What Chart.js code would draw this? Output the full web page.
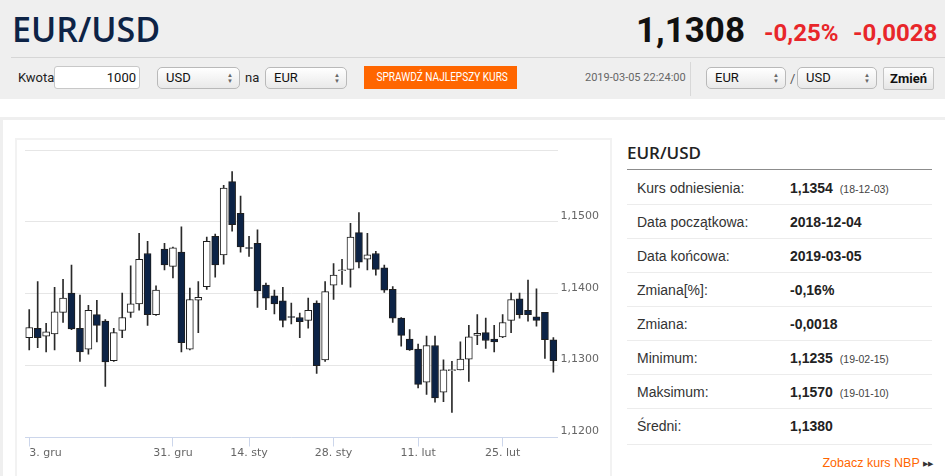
<!DOCTYPE html>
<html lang="pl">
<head>
<meta charset="utf-8">
<title>EUR/USD</title>
<script src="https://cdn.jsdelivr.net/npm/chart.js@4.4.1/dist/chart.umd.min.js"></script>
<style>
  html, body { margin: 0; padding: 0; background: #fff; }
  body { width: 945px; height: 476px; position: relative; overflow: hidden; font-family: "Liberation Sans", Arial, sans-serif; }
  .abs { position: absolute; }
  .narrow { font-family: "Liberation Sans Narrow", "Roboto", sans-serif; }
  #top { left: 0; top: 0; width: 945px; height: 99px; background: #efefef; }
  #title { left: 12px; top: 11px; font: 600 34px/36px "Open Sans", sans-serif; color: #0d2346; }
  #price { left: 636px; top: 13px; font: 700 35px/36px Roboto, sans-serif; color: #111; }
  .chg { top: 19px; font: 700 24px/28px Roboto, sans-serif; color: #e8262a; }
  #sep1 { left: 11px; top: 57px; width: 934px; height: 1px; background: #d6d6d6; }
  .lbl { font-size: 13px; line-height: 22px; color: #222; }
  .inp { background: #fff; border: 1px solid #c8c8c8; border-radius: 3px; box-sizing: border-box; font-size: 13px; line-height: 21px; text-align: right; padding-right: 3px; color: #111; }
  .sel { box-sizing: border-box; height: 22px; border: 1px solid #b9b9b9; border-radius: 5px; background: linear-gradient(#ffffff, #e9e9e9); font-size: 13px; line-height: 20px; padding-left: 8px; color: #111; }
  .sel .arr { position: absolute; right: 6px; top: 4px; font-size: 6px; line-height: 6px; color: #666; }
  #btn { left: 364px; top: 66px; width: 153px; height: 23px; background: #ff6600; color: #fff; font-size: 12px; line-height: 23px; text-align: center; white-space: nowrap; overflow: hidden; }
  #btn span { display: inline-block; transform: scaleX(0.84); transform-origin: center; }
  #stamp { left: 585px; top: 67px; font-size: 11px; line-height: 22px; color: #666; }
  #sep2 { left: 690px; top: 62px; width: 1px; height: 34px; background: #d8d8d8; }
  #zmien { left: 883px; top: 67px; width: 51px; height: 23px; box-sizing: border-box; border: 1px solid #c4c4c4; border-radius: 2px; background: linear-gradient(#fdfdfd, #e6e6e6); font-weight: 700; font-size: 13px; line-height: 21px; text-align: center; color: #111; }
  #panel { left: 0; top: 117px; width: 945px; height: 370px; box-sizing: border-box; border-top: 3px solid #efefef; border-left: 3px solid #efefef; }
  #chartBox { left: 15px; top: 138px; width: 597px; height: 350px; box-sizing: border-box; border: 2px solid #f2f2f2; }
  #chartWrap { left: 17px; top: 140px; width: 594px; height: 336px; }
  #tblHead { left: 627px; top: 141px; font: 600 17px/24px "Open Sans", sans-serif; color: #222; }
  #tblLine { left: 627px; top: 169px; width: 305px; height: 1px; background: #8c8c8c; }
  .row { left: 627px; width: 305px; height: 34px; border-bottom: 1px solid #ececec; box-sizing: border-box; }
  .row .k { position: absolute; left: 10px; top: 8px; font-size: 14px; line-height: 18px; color: #333; }
  .row .v { position: absolute; left: 163px; top: 8px; font-size: 14px; line-height: 18px; font-weight: 700; color: #222; }
  .row .v small { font-weight: 400; font-size: 10.5px; color: #444; margin-left: 7px; }
  #nbp { left: 760px; top: 454px; width: 173px; text-align: right; font-size: 12.5px; line-height: 18px; color: #ff6600; }
  #nbp span { color: #333; font-size: 7px; vertical-align: 1px; }
</style>
</head>
<body>
<div id="top" class="abs"></div>
<div id="title" class="abs">EUR/USD</div>
<div id="price" class="abs">1,1308</div>
<div class="abs chg" style="left:764px">-0,25%</div>
<div class="abs chg" style="left:853px">-0,0028</div>
<div id="sep1" class="abs"></div>

<div class="abs lbl narrow" style="left:18px;top:67px">Kwota</div>
<div class="abs inp narrow" style="left:54px;top:66px;width:86px;height:23px">1000</div>
<div class="abs sel narrow" style="left:157px;top:67px;width:83px">USD<span class="arr">▲<br>▼</span></div>
<div class="abs lbl narrow" style="left:245px;top:67px">na</div>
<div class="abs sel narrow" style="left:265px;top:67px;width:82px">EUR<span class="arr">▲<br>▼</span></div>
<div id="btn" class="abs narrow"><span>SPRAWDŹ NAJLEPSZY KURS</span></div>
<div id="stamp" class="abs narrow">2019-03-05 22:24:00</div>
<div id="sep2" class="abs"></div>
<div class="abs sel narrow" style="left:706px;top:67px;width:80px">EUR<span class="arr">▲<br>▼</span></div>
<div class="abs lbl narrow" style="left:790px;top:68px;color:#555">/</div>
<div class="abs sel narrow" style="left:797px;top:67px;width:80px">USD<span class="arr">▲<br>▼</span></div>
<div id="zmien" class="abs narrow">Zmień</div>

<div id="panel" class="abs"></div>
<div id="chartBox" class="abs"></div>
<div id="chartWrap" class="abs"><canvas id="fxChart"></canvas></div>

<div id="tblHead" class="abs">EUR/USD</div>
<div id="tblLine" class="abs"></div>
<div class="abs row" style="top:171px"><span class="k">Kurs odniesienia:</span><span class="v">1,1354<small>(18-12-03)</small></span></div>
<div class="abs row" style="top:205px"><span class="k">Data początkowa:</span><span class="v">2018-12-04</span></div>
<div class="abs row" style="top:239px"><span class="k">Data końcowa:</span><span class="v">2019-03-05</span></div>
<div class="abs row" style="top:273px"><span class="k">Zmiana[%]:</span><span class="v">-0,16%</span></div>
<div class="abs row" style="top:307px"><span class="k">Zmiana:</span><span class="v">-0,0018</span></div>
<div class="abs row" style="top:341px"><span class="k">Minimum:</span><span class="v">1,1235<small>(19-02-15)</small></span></div>
<div class="abs row" style="top:375px"><span class="k">Maksimum:</span><span class="v">1,1570<small>(19-01-10)</small></span></div>
<div class="abs row" style="top:409px;height:36px"><span class="k">Średni:</span><span class="v">1,1380</span></div>
<div id="nbp" class="abs">Zobacz kurs NBP <span>▶▶</span></div>

<script>
// trading days shown on the chart
const days = [
  '2018-12-04', '2018-12-05', '2018-12-06', '2018-12-07', '2018-12-10', '2018-12-11', '2018-12-12',
  '2018-12-13', '2018-12-14', '2018-12-17', '2018-12-18', '2018-12-19', '2018-12-20', '2018-12-21',
  '2018-12-24', '2018-12-27', '2018-12-28', '2018-12-31',
  '2019-01-02', '2019-01-03', '2019-01-04', '2019-01-07', '2019-01-08', '2019-01-09', '2019-01-10',
  '2019-01-11', '2019-01-14', '2019-01-15', '2019-01-16', '2019-01-17', '2019-01-18', '2019-01-21',
  '2019-01-22', '2019-01-23', '2019-01-24', '2019-01-25', '2019-01-28', '2019-01-29', '2019-01-30',
  '2019-01-31',
  '2019-02-01', '2019-02-04', '2019-02-05', '2019-02-06', '2019-02-07', '2019-02-08', '2019-02-11',
  '2019-02-12', '2019-02-13', '2019-02-14', '2019-02-15', '2019-02-18', '2019-02-19', '2019-02-20',
  '2019-02-21', '2019-02-22', '2019-02-25', '2019-02-26', '2019-02-27', '2019-02-28',
  '2019-03-01', '2019-03-04', '2019-03-05'
];

const openVals = [
  1.1339, 1.1352, 1.1341, 1.1344, 1.1374, 1.1401, 1.1352, 1.1323, 1.1371, 1.1362, 1.1307, 1.1349, 1.1374, 1.1386,
  1.1456, 1.1371, 1.1462, 1.1438,
  1.1458, 1.1323, 1.1391, 1.1410, 1.1480, 1.1454, 1.1556, 1.1512, 1.1464, 1.1470, 1.1412, 1.1397, 1.1390, 1.1368,
  1.1367, 1.1363, 1.1387, 1.1308, 1.1412, 1.1432, 1.1434, 1.1485,
  1.1448, 1.1456, 1.1436, 1.1406, 1.1366, 1.1337, 1.1323, 1.1277, 1.1328, 1.1263, 1.1293, 1.1294, 1.1309, 1.1342,
  1.1346, 1.1337, 1.1340, 1.1363, 1.1393, 1.1377,
  1.1368, 1.1374, 1.1336
];
const highVals = [
  1.1378, 1.1417, 1.1359, 1.1409, 1.1420, 1.1440, 1.1398, 1.1384, 1.1391, 1.1364, 1.1352, 1.1401, 1.1439, 1.1484,
  1.1473, 1.1411, 1.1470, 1.1465,
  1.1493, 1.1408, 1.1417, 1.1479, 1.1483, 1.1551, 1.1570, 1.1536, 1.1480, 1.1489, 1.1415, 1.1405, 1.1409, 1.1387,
  1.1373, 1.1394, 1.1390, 1.1417, 1.1442, 1.1448, 1.1498, 1.1513,
  1.1484, 1.1459, 1.1440, 1.1410, 1.1367, 1.1350, 1.1330, 1.1341, 1.1341, 1.1308, 1.1306, 1.1333, 1.1356, 1.1371,
  1.1366, 1.1356, 1.1371, 1.1401, 1.1401, 1.1419,
  1.1407, 1.1374, 1.1339
];
const lowVals = [
  1.1322, 1.1325, 1.1319, 1.1322, 1.1360, 1.1350, 1.1306, 1.1316, 1.1333, 1.1271, 1.1306, 1.1339, 1.1367, 1.1377,
  1.1356, 1.1370, 1.1433, 1.1422,
  1.1319, 1.1322, 1.1346, 1.1406, 1.1423, 1.1441, 1.1487, 1.1458, 1.1452, 1.1381, 1.1378, 1.1372, 1.1354, 1.1358,
  1.1339, 1.1352, 1.1289, 1.1306, 1.1392, 1.1413, 1.1409, 1.1436,
  1.1433, 1.1426, 1.1402, 1.1360, 1.1327, 1.1321, 1.1269, 1.1260, 1.1249, 1.1250, 1.1235, 1.1294, 1.1278, 1.1329,
  1.1324, 1.1319, 1.1339, 1.1346, 1.1366, 1.1362,
  1.1355, 1.1310, 1.1291
];
const closeVals = [
  1.1353, 1.1339, 1.1347, 1.1375, 1.1394, 1.1351, 1.1319, 1.1377, 1.1356, 1.1305, 1.1346, 1.1367, 1.1386, 1.1448,
  1.1371, 1.1405, 1.1440, 1.1464,
  1.1332, 1.1392, 1.1395, 1.1473, 1.1440, 1.1547, 1.1496, 1.1465, 1.1463, 1.1404, 1.1394, 1.1386, 1.1363, 1.1367,
  1.1361, 1.1377, 1.1300, 1.1403, 1.1426, 1.1433, 1.1479, 1.1444,
  1.1454, 1.1434, 1.1405, 1.1366, 1.1342, 1.1322, 1.1274, 1.1328, 1.1255, 1.1294, 1.1294, 1.1309, 1.1340, 1.1345,
  1.1335, 1.1333, 1.1360, 1.1392, 1.1371, 1.1371,
  1.1363, 1.1336, 1.1307
];

// x axis labels (week ticks) and y axis range
const tickDays = ['2018-12-04', '2018-12-31', '2019-01-14', '2019-01-28', '2019-02-11', '2019-02-25'];
const tickTexts = ['3. gru', '31. gru', '14. sty', '28. sty', '11. lut', '25. lut'];
const yTicks = [1.12, 1.13, 1.14, 1.15, 1.16];
const yHidden = [1.16];

const fxChart = {
    chart: null,

    tickText(index) {
        const pos = tickDays.indexOf(days[index]);
        return pos >= 0 ? tickTexts[pos] : '';
    },

    init() {
        const ctx = document.getElementById('fxChart').getContext('2d');

        // candle bodies as floating bars, wicks as 1px floating bars behind them
        const bodies = days.map((d, i) => [openVals[i], closeVals[i]]);
        const wicks = days.map((d, i) => [lowVals[i], highVals[i]]);
        const fills = days.map((d, i) => closeVals[i] >= openVals[i] ? '#ffffff' : '#0c2346');

        this.chart = new Chart(ctx, {
            type: 'bar',
            data: {
                labels: days,
                datasets: [
                    {
                        data: bodies,
                        backgroundColor: fills,
                        borderColor: '#1e1e1e',
                        borderWidth: 1,
                        borderSkipped: false,
                        barThickness: 7,
                        minBarLength: 1,
                        grouped: false
                    },
                    {
                        data: wicks,
                        backgroundColor: '#2a2a2a',
                        borderWidth: 0,
                        barThickness: 1,
                        grouped: false
                    }
                ]
            },
            options: {
                responsive: true,
                maintainAspectRatio: false,
                animation: false,
                layout: { padding: { left: 8, top: 10, right: 0, bottom: 12.5 } },
                plugins: { legend: { display: false }, tooltip: { enabled: false } },
                scales: {
                    x: {
                        grid: {
                            offset: false,
                            drawOnChartArea: false,
                            tickLength: 9,
                            color: (c) => this.tickText(c.index) ? '#ccd6eb' : 'rgba(0,0,0,0)'
                        },
                        border: { display: true, color: '#ccd6eb' },
                        ticks: {
                            autoSkip: false,
                            maxRotation: 0,
                            align: 'inner',
                            padding: 0,
                            color: '#666',
                            font: { family: 'DejaVu Sans', size: 11 },
                            callback: (v, i) => this.tickText(i)
                        },
                        afterFit: (scale) => { scale.height = 26; }
                    },
                    y: {
                        position: 'right',
                        min: yTicks[0],
                        max: yTicks[yTicks.length - 1],
                        afterBuildTicks: (scale) => { scale.ticks = yTicks.map(v => ({ value: v })); },
                        grid: { color: '#e6e6e6', drawTicks: false },
                        border: { display: false },
                        ticks: {
                            padding: 3,
                            labelOffset: -6,
                            color: '#666',
                            font: { family: 'DejaVu Sans', size: 11 },
                            callback: (v) => yHidden.some(h => Math.abs(h - v) < 1e-6) ? '' : v.toFixed(4).replace('.', ',')
                        },
                        afterFit: (scale) => { scale.width = 53.4; }
                    }
                }
            }
        });
    }
};

document.addEventListener('DOMContentLoaded', () => fxChart.init());
</script>
</body>
</html>
